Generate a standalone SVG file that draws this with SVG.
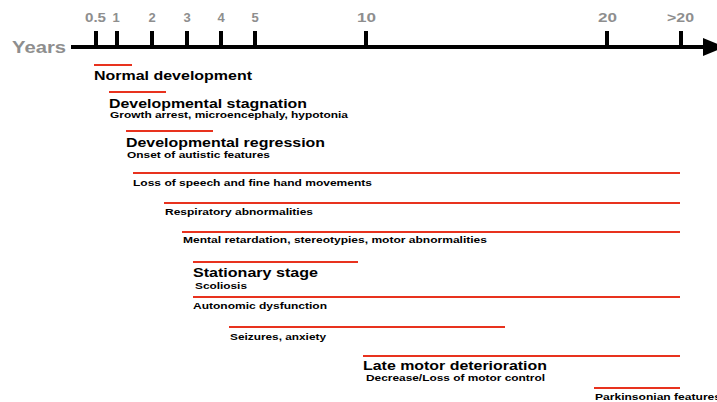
<svg xmlns="http://www.w3.org/2000/svg" width="717" height="402" viewBox="0 0 717 402">
<style>
.ax{stroke:#000;stroke-width:4;fill:none}
.tk{font-family:"Liberation Sans",Arial,sans-serif;font-weight:bold;font-size:13px;fill:#8e8e8e;text-anchor:middle}
.yr{font-family:"Liberation Sans",Arial,sans-serif;font-weight:bold;font-size:16.5px;fill:#8e8e8e}
.bar{stroke:#e8321e;stroke-width:2;fill:none}
.t1{font-family:"Liberation Sans",Arial,sans-serif;font-weight:bold;font-size:12.5px;fill:#000}
.t2{font-family:"Liberation Sans",Arial,sans-serif;font-weight:bold;font-size:9.8px;fill:#000}
</style>
<rect width="717" height="402" fill="#fff"/>
<g id="axis">
<text class="yr" x="12" y="53" textLength="54" lengthAdjust="spacingAndGlyphs">Years</text>
<line class="ax" x1="71" y1="47" x2="706" y2="47"/>
<polygon points="703,38 725,47 703,56" fill="#000"/>
<line class="ax" x1="96" y1="31" x2="96" y2="47"/>
<line class="ax" x1="117" y1="31" x2="117" y2="47"/>
<line class="ax" x1="152" y1="31" x2="152" y2="47"/>
<line class="ax" x1="187" y1="31" x2="187" y2="47"/>
<line class="ax" x1="221" y1="31" x2="221" y2="47"/>
<line class="ax" x1="255" y1="31" x2="255" y2="47"/>
<line class="ax" x1="366" y1="31" x2="366" y2="47"/>
<line class="ax" x1="607" y1="31" x2="607" y2="47"/>
<line class="ax" x1="681" y1="31" x2="681" y2="47"/>
<text class="tk" x="95.5" y="22" textLength="21" lengthAdjust="spacingAndGlyphs">0.5</text>
<text class="tk" x="116" y="22">1</text>
<text class="tk" x="152" y="22">2</text>
<text class="tk" x="187" y="22">3</text>
<text class="tk" x="221" y="22">4</text>
<text class="tk" x="255" y="22">5</text>
<text class="tk" x="366.5" y="22" textLength="19" lengthAdjust="spacingAndGlyphs">10</text>
<text class="tk" x="607.5" y="22" textLength="19" lengthAdjust="spacingAndGlyphs">20</text>
<text class="tk" x="680.5" y="22" textLength="27" lengthAdjust="spacingAndGlyphs">&gt;20</text>
</g>
<g id="connectors">
<line class="bar" x1="94" y1="65" x2="132" y2="65"/>
<line class="bar" x1="109" y1="92" x2="166" y2="92"/>
<line class="bar" x1="126" y1="131" x2="213" y2="131"/>
<line class="bar" x1="133" y1="173" x2="680" y2="173"/>
<line class="bar" x1="164" y1="203" x2="680" y2="203"/>
<line class="bar" x1="182" y1="232" x2="680" y2="232"/>
<line class="bar" x1="193" y1="262" x2="358" y2="262"/>
<line class="bar" x1="193" y1="297" x2="680" y2="297"/>
<line class="bar" x1="229" y1="327" x2="505" y2="327"/>
<line class="bar" x1="363" y1="356" x2="680" y2="356"/>
<line class="bar" x1="594" y1="388" x2="680" y2="388"/>
</g>
<g id="normal"><text class="t1" x="94" y="80" textLength="158" lengthAdjust="spacingAndGlyphs">Normal development</text></g>
<g id="stagnation">
<text class="t1" x="109" y="107.5" textLength="198" lengthAdjust="spacingAndGlyphs">Developmental stagnation</text>
<text class="t2" x="110" y="118" textLength="238" lengthAdjust="spacingAndGlyphs">Growth arrest, microencephaly, hypotonia</text>
</g>
<g id="regression">
<text class="t1" x="126" y="146.5" textLength="199" lengthAdjust="spacingAndGlyphs">Developmental regression</text>
<text class="t2" x="127" y="158" textLength="143" lengthAdjust="spacingAndGlyphs">Onset of autistic features</text>
</g>
<g id="speech"><text class="t2" x="133" y="186" textLength="239" lengthAdjust="spacingAndGlyphs">Loss of speech and fine hand movements</text></g>
<g id="respiratory"><text class="t2" x="165" y="215" textLength="148" lengthAdjust="spacingAndGlyphs">Respiratory abnormalities</text></g>
<g id="mental"><text class="t2" x="183" y="243" textLength="304" lengthAdjust="spacingAndGlyphs">Mental retardation, stereotypies, motor abnormalities</text></g>
<g id="stationary">
<text class="t1" x="193" y="276.5" textLength="125" lengthAdjust="spacingAndGlyphs">Stationary stage</text>
<text class="t2" x="195" y="288.5" textLength="52" lengthAdjust="spacingAndGlyphs">Scoliosis</text>
</g>
<g id="autonomic"><text class="t2" x="193" y="309" textLength="134" lengthAdjust="spacingAndGlyphs">Autonomic dysfunction</text></g>
<g id="seizures"><text class="t2" x="230" y="340" textLength="96" lengthAdjust="spacingAndGlyphs">Seizures, anxiety</text></g>
<g id="late">
<text class="t1" x="363" y="370" textLength="184" lengthAdjust="spacingAndGlyphs">Late motor deterioration</text>
<text class="t2" x="366" y="380.5" textLength="179" lengthAdjust="spacingAndGlyphs">Decrease/Loss of motor control</text>
</g>
<g id="parkinsonian"><text class="t2" x="595" y="400" textLength="126" lengthAdjust="spacingAndGlyphs">Parkinsonian features</text></g>
</svg>
